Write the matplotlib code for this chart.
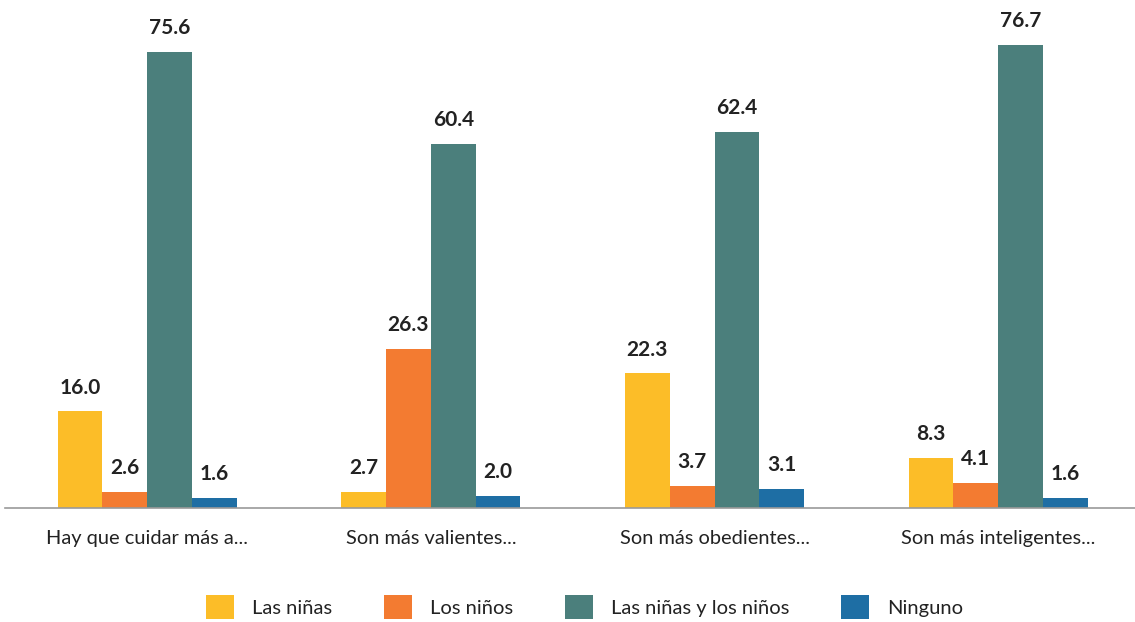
import matplotlib.pyplot as plt
import numpy as np

plt.rcParams['font.family'] = ['Lato', 'DejaVu Sans']

# Data
categories = ['Hay que cuidar más a...', 'Son más valientes...',
              'Son más obedientes...', 'Son más inteligentes...']
series = ['Las niñas', 'Los niños', 'Las niñas y los niños', 'Ninguno']
values = [
    [16.0, 2.7, 22.3, 8.3],
    [2.6, 26.3, 3.7, 4.1],
    [75.6, 60.4, 62.4, 76.7],
    [1.6, 2.0, 3.1, 1.6],
]
colors = ['#FCBD28', '#F37B31', '#4B7F7C', '#1E6EA4']

fig = plt.figure(figsize=(11.35, 6.22), dpi=100)
ax = fig.add_axes([5.3 / 1135, 114 / 622, 1134.8 / 1135, 508 / 622])

x = np.arange(len(categories))
width = 0.158
for i, (name, vals, col) in enumerate(zip(series, values, colors)):
    pos = x + (i - 1.5) * width
    bars = ax.bar(pos, vals, width=width, color=col, label=name)
    for b, v in zip(bars, vals):
        ax.annotate(f'{v:.1f}', (b.get_x() + b.get_width() / 2, v),
                    xytext=(0, 10), textcoords='offset points',
                    ha='center', va='bottom', fontsize=15,
                    fontweight='bold', color='#222222')

ax.set_xlim(-0.5, 3.5)
ax.set_ylim(0, 84.2)
ax.set_xticks(x)
ax.set_xticklabels(categories, fontsize=14.4, color='#222222')
ax.tick_params(axis='x', length=0, pad=16)
ax.set_yticks([])
for s in ['top', 'right', 'left']:
    ax.spines[s].set_visible(False)
ax.spines['bottom'].set_color('#9a9a9a')
ax.spines['bottom'].set_linewidth(1.2)

fig.legend(loc='center', bbox_to_anchor=(0.515, 0.024), ncol=4,
           frameon=False, fontsize=14.5, handlelength=1.4, handleheight=1.4,
           handletextpad=0.9, columnspacing=2.55, labelcolor='#222222')

fig.savefig('out.png', dpi=100)
